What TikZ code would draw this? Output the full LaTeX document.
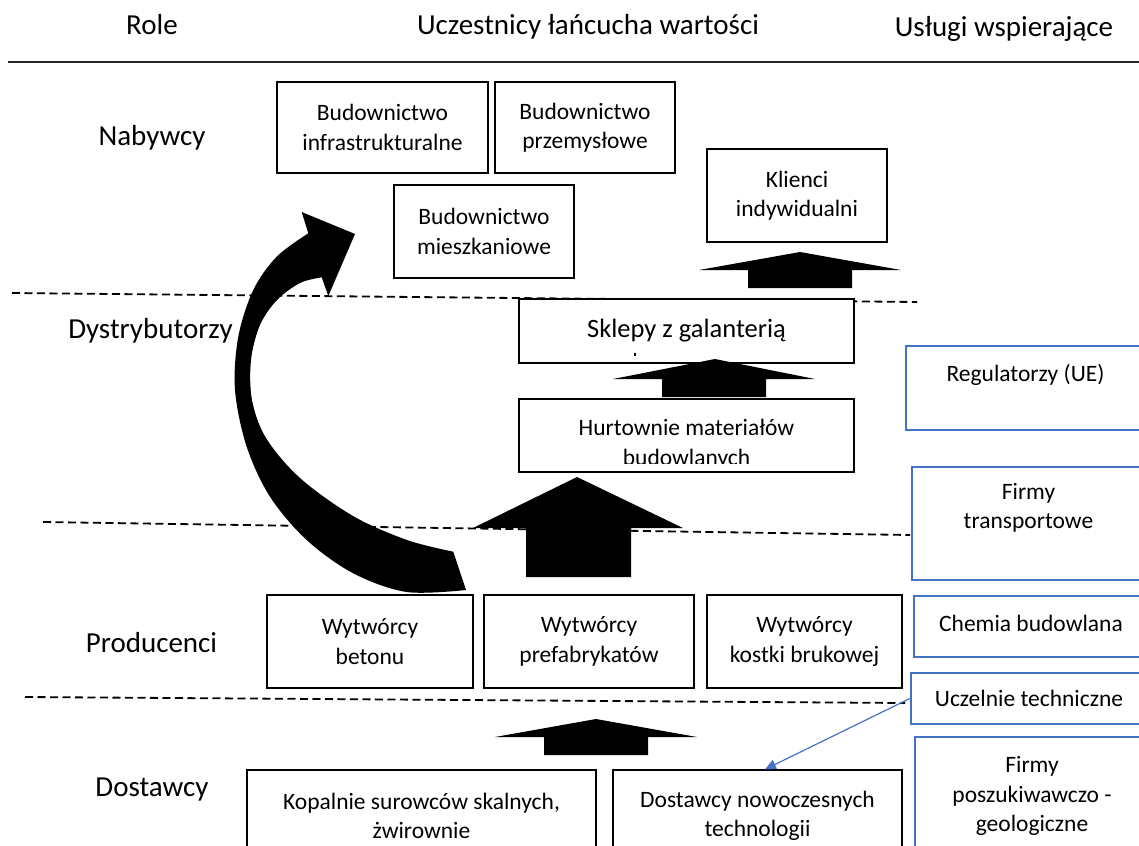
\documentclass[tikz,border=0pt]{standalone}
\usepackage{fontspec}
\setmainfont{Carlito}
\usetikzlibrary{arrows.meta}
\definecolor{obl}{HTML}{4472C4}
\tikzset{
  bbox/.style={draw=black, line width=1.3pt, fill=white, inner sep=0pt, align=center,
    font=\fontsize{23.5}{29.5}\selectfont},
  blbox/.style={draw=obl, line width=2.3pt, fill=white, inner sep=0pt},
  txt/.style={inner sep=0pt, align=center, font=\fontsize{23.5}{29.5}\selectfont},
  hdr/.style={inner sep=0pt, anchor=base, font=\fontsize{29}{35}\selectfont},
  divline/.style={line width=1.8pt, dash pattern=on 8pt off 4.5pt},
  blockarr/.style={fill=black},
  bconn/.style={draw=obl, line width=1.2pt, -{Triangle[length=11pt,width=10pt]}},
}
\begin{document}
\begin{tikzpicture}[x=1pt,y=-1pt]
\useasboundingbox (0,0) rectangle (1139,845);
\clip (0,0) rectangle (1139,845);

% headers
\node[hdr] (hrole) at (152,35) {Role};
\node[hdr] (hucz) at (588,35) {Uczestnicy łańcucha wartości};
\node[hdr] (husl) at (1004,37) {Usługi wspierające};
\coordinate (hl) at (8,62);
\coordinate (hr) at (1139,62);
\draw[line width=1.8pt, black!85] (hl) -- (hr);

% role labels
\node[hdr] (rnab) at (152,146) {Nabywcy};
\node[hdr] (rdys) at (150.5,338) {Dystrybutorzy};
\node[hdr] (rpro) at (151.5,652) {Producenci};
\node[hdr] (rdos) at (152,796) {Dostawcy};

% dashed separators
\coordinate (d1a) at (12,293);  \coordinate (d1b) at (917,302);
\coordinate (d2a) at (43,522);  \coordinate (d2b) at (910,535);
\coordinate (d3a) at (25,697);  \coordinate (d3b) at (905,703);
\draw[divline] (d1a) -- (d1b);
\draw[divline] (d2a) -- (d2b);
\draw[divline] (d3a) -- (d3b);

% buyers
\node[bbox, minimum width=211pt, minimum height=91pt] (infra) at (382.5,127.5) {Budownictwo\\infrastrukturalne};
\node[bbox, minimum width=180pt, minimum height=91pt] (przem) at (585,127.5) {Budownictwo\\przemysłowe};
\node[bbox, minimum width=180pt, minimum height=93pt] (mieszk) at (484,231.5) {Budownictwo\\mieszkaniowe};
\node[bbox, minimum width=180pt, minimum height=93pt] (klienci) at (797,195.5) {Klienci\\indywidualni};

% distributors
\node[bbox, minimum width=335pt, minimum height=64pt] (sklepy) at (686.5,331) {};
\node[txt, anchor=base, font=\fontsize{26.5}{32}\selectfont] (sklepyt) at (686.5,337) {Sklepy z galanterią};
\fill (634,353) rectangle (636,356);
\node[bbox, minimum width=335pt, minimum height=73pt] (hurt) at (686.5,435.5) {};
\begin{scope}
  \clip (521,401) rectangle (852,463);
  \node[txt] (hurtt) at (686.5,444) {Hurtownie materiałów\\budowlanych};
\end{scope}

% producers
\node[bbox, minimum width=206pt, minimum height=93pt] (beton) at (370,641.5) {Wytwórcy\\betonu};
\node[bbox, minimum width=210pt, minimum height=93pt] (prefab) at (589,641.5) {Wytwórcy\\prefabrykatów};
\node[bbox, minimum width=195pt, minimum height=93pt] (kostki) at (804.5,641.5) {Wytwórcy\\kostki brukowej};

% suppliers
\node[bbox, minimum width=349pt, minimum height=110pt] (kopal) at (421.5,825) {};
\node[txt] (kopalt) at (421.5,816) {Kopalnie surowców skalnych,\\żwirownie};
\node[bbox, minimum width=289pt, minimum height=110pt] (dnow) at (757.5,825) {};
\node[txt] (dnowt) at (757.5,816) {Dostawcy nowoczesnych\\technologii};

% supporting services (blue)
\node[blbox, minimum width=242pt, minimum height=84pt] (reg) at (1027,388) {};
\node[txt, anchor=base] (regt) at (1025.5,381) {Regulatorzy (UE)};
\node[blbox, minimum width=236pt, minimum height=113pt] (trans) at (1030,523.5) {};
\node[txt] (transt) at (1028.5,508) {Firmy\\transportowe};
\node[blbox, minimum width=234pt, minimum height=61pt] (chem) at (1031,626.5) {};
\node[txt, anchor=base] (chemt) at (1031,631) {Chemia budowlana};
\node[blbox, minimum width=237pt, minimum height=51pt] (ucz) at (1029.5,698.5) {};
\node[txt, anchor=base] (uczt) at (1029,706) {Uczelnie techniczne};
\node[blbox, minimum width=233pt, minimum height=143pt] (posz) at (1031.5,808.5) {};
\node[txt] (poszt) at (1032,796) {Firmy\\poszukiwawczo -\\geologiczne};

% block arrows
\fill[blockarr] (800,252) -- (901,270) -- (852,270) -- (852,288) -- (748,288) -- (748,270) -- (699,270) -- cycle;
\fill[blockarr] (715,359) -- (815,379) -- (766,379) -- (766,397) -- (662,397) -- (662,379) -- (613,379) -- cycle;
\fill[blockarr] (577,477) -- (683,528) -- (631,528) -- (631,577) -- (526,577) -- (526,528) -- (473,528) -- cycle;
\fill[blockarr] (596,719) -- (697,737) -- (648,737) -- (648,755) -- (544,755) -- (544,737) -- (495,737) -- cycle;

% curved arrow
\fill[blockarr] (453.3,551.7) -- plot[smooth, tension=0.55] coordinates {(466,590) (406.7,592) (353.3,573.3) (306.7,540) (270,496.7) (246.7,446.7) (235,390) (238.3,336.7) (253.3,290) (276.7,256.7) (308.3,233.3)}
  -- (301.7,212) -- (355,234) -- (328.3,296)
  -- plot[smooth, tension=0.55] coordinates {(321.7,277.3) (300,283) (277,300) (260,325) (251,360) (252,400) (266,438) (300,478) (353,516) (407,540) (453.3,551.7)} -- cycle;

% blue connector
\draw[bconn] (ucz.west) -- ([xshift=7.5pt]dnow.north);
\end{tikzpicture}
\end{document}
